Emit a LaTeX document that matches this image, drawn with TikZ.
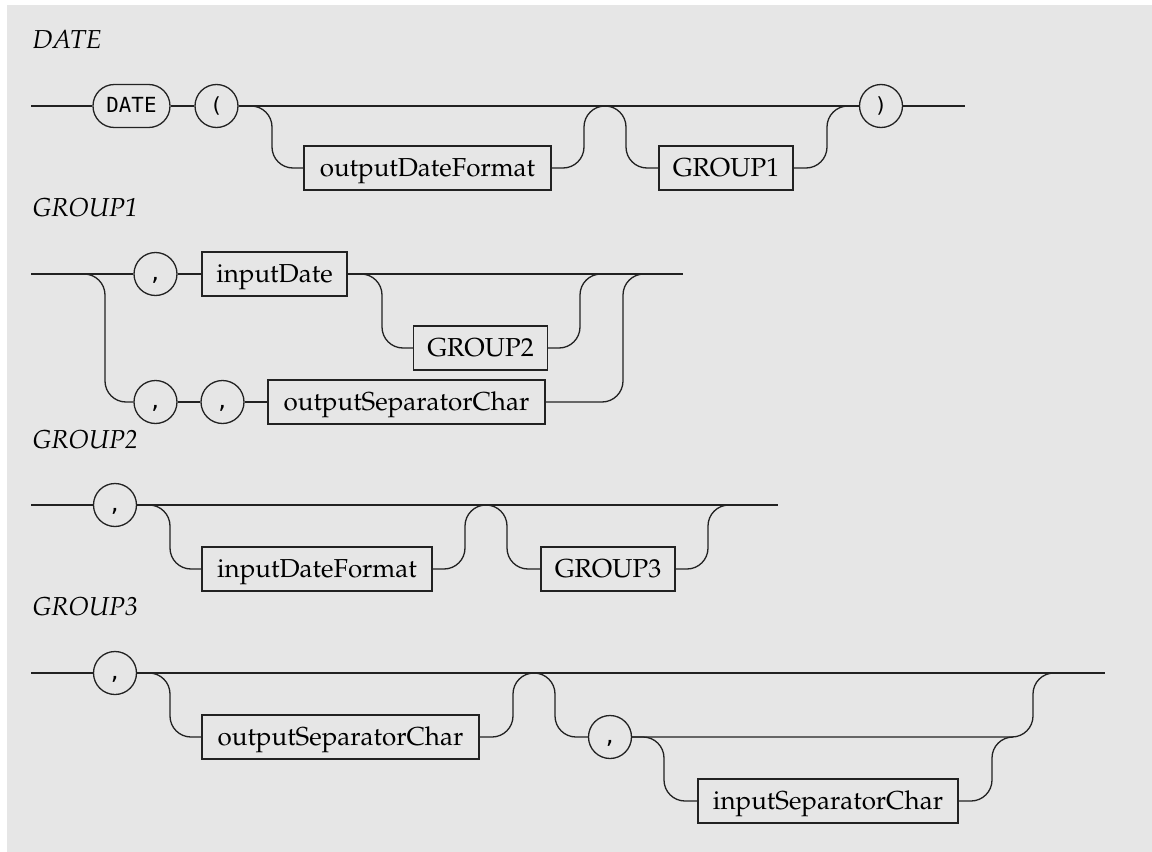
\documentclass[tikz,border=0pt]{standalone}
\usepackage{fontspec}
\usepackage[T1]{fontenc}
\usepackage{mathpazo}
\newfontfamily\railmono{DejaVu Sans Mono}
\definecolor{bg}{HTML}{E6E6E6}
\definecolor{ink}{HTML}{222222}
\def\pxu{0.385pt}
\begin{document}
\begin{tikzpicture}[x=0.385pt,y=-0.385pt,
  rail/.style={draw=ink,line width=0.5pt},
  rc/.style={rail,rounded corners=8.085pt},
  ntbox/.style={rectangle,draw=ink,line width=0.5pt,inner sep=0pt,
    minimum height=44*\pxu,text height=6.9pt,text depth=0pt,
    font=\fontsize{10}{12}\selectfont},
  tmcirc/.style={circle,draw=ink,line width=0.5pt,inner sep=0pt,
    minimum size=43*\pxu,font=\railmono\fontsize{8}{10}\selectfont},
  tmround/.style={rectangle,draw=ink,line width=0.5pt,inner sep=0pt,
    rounded corners=8.2pt,minimum width=77*\pxu,minimum height=43*\pxu,
    font=\railmono\fontsize{8}{10}\selectfont},
  ttl/.style={anchor=base west,inner sep=0pt,font=\itshape\fontsize{10}{12}\selectfont}]
\useasboundingbox (0,0) rectangle (1152,852);
\fill[white] (0,0) rectangle (1152,852);
\fill[bg] (7,5) rectangle (1152,852);

% ---------------- DATE ----------------
\node[ttl] (t1) at (32,49) {DATE};
\coordinate (s1) at (31,106);
\coordinate (e1) at (965,106);
\node[tmround] (dateT) at (131.5,106) {DATE\vphantom{(}};
\node[tmcirc] (lp) at (216.5,106) {(};
\node[ntbox,minimum width=247*\pxu] (odf) at (427.5,168) {outputDateFormat};
\node[ntbox,minimum width=134*\pxu] (g1) at (726,168) {GROUP1};
\node[tmcirc] (rp) at (881,106) {)};
\coordinate (a1) at (272,168);
\coordinate (b1) at (584,106);
\coordinate (m1) at (605,106);
\coordinate (c1) at (626,168);
\coordinate (d1) at (827,106);
\coordinate (f1) at (848,106);
\draw[rail] (s1) -- (dateT.west);
\draw[rail] (dateT.east) -- (lp.west);
\draw[rail] (lp.east) -- (rp.west);
\draw[rail] (rp.east) -- (e1);
\draw[rc] (lp.east) -| (a1) -- (odf.west);
\draw[rc] (odf.east) -| (b1) -- (m1);
\draw[rc] (m1) -| (c1) -- (g1.west);
\draw[rc] (g1.east) -| (d1) -- (f1);

% ---------------- GROUP1 ----------------
\node[ttl] (t2) at (32,216) {GROUP1};
\coordinate (s2) at (31,274);
\coordinate (e2) at (683,274);
\node[tmcirc] (cA) at (155.5,274) {,\vphantom{(}};
\node[ntbox,minimum width=145*\pxu] (id) at (274.5,274) {inputDate};
\node[ntbox,minimum width=134*\pxu] (g2) at (480.5,348) {GROUP2};
\node[tmcirc] (cB) at (155.5,402) {,\vphantom{(}};
\node[tmcirc] (cC) at (222.5,402) {,\vphantom{(}};
\node[ntbox,minimum width=277*\pxu] (osc2) at (406.5,402) {outputSeparatorChar};
\coordinate (j2) at (84,274);
\coordinate (a2) at (105,402);
\coordinate (b2) at (382,348);
\coordinate (c2) at (580,274);
\coordinate (d2) at (601,274);
\coordinate (f2) at (623,274);
\coordinate (h2) at (644,274);
\draw[rail] (s2) -- (cA.west);
\draw[rail] (cA.east) -- (id.west);
\draw[rail] (id.east) -- (e2);
\draw[rc] (id.east) -| (b2) -- (g2.west);
\draw[rc] (g2.east) -| (c2) -- (d2);
\draw[rc] (j2) -| (a2) -- (cB.west);
\draw[rail] (cB.east) -- (cC.west);
\draw[rail] (cC.east) -- (osc2.west);
\draw[rc] (osc2.east) -| (f2) -- (h2);

% ---------------- GROUP2 ----------------
\node[ttl] (t3) at (32,448) {GROUP2};
\coordinate (s3) at (31,505);
\coordinate (e3) at (778,505);
\node[tmcirc] (cD) at (115,505) {,\vphantom{(}};
\node[ntbox,minimum width=230*\pxu] (idf) at (317,569) {inputDateFormat};
\node[ntbox,minimum width=134*\pxu] (g3) at (608,569) {GROUP3};
\coordinate (a3) at (170,569);
\coordinate (b3) at (465,505);
\coordinate (m3) at (486,505);
\coordinate (c3) at (507,569);
\coordinate (d3) at (708,505);
\coordinate (f3) at (729,505);
\draw[rail] (s3) -- (cD.west);
\draw[rail] (cD.east) -- (e3);
\draw[rc] (cD.east) -| (a3) -- (idf.west);
\draw[rc] (idf.east) -| (b3) -- (m3);
\draw[rc] (m3) -| (c3) -- (g3.west);
\draw[rc] (g3.east) -| (d3) -- (f3);

% ---------------- GROUP3 ----------------
\node[ttl] (t4) at (32,615) {GROUP3};
\coordinate (s4) at (31,673);
\coordinate (e4) at (1105,673);
\node[tmcirc] (cE) at (115,673) {,\vphantom{(}};
\node[ntbox,minimum width=277*\pxu] (osc4) at (340.5,737) {outputSeparatorChar};
\node[tmcirc] (cF) at (610,737) {,\vphantom{(}};
\node[ntbox,minimum width=260*\pxu] (isc) at (828,801) {inputSeparatorChar};
\coordinate (a4) at (170,737);
\coordinate (b4) at (513,673);
\coordinate (m4) at (534,673);
\coordinate (c4) at (555,737);
\coordinate (d4) at (1033,673);
\coordinate (f4) at (1054,673);
\coordinate (g4) at (664,801);
\coordinate (h4) at (992,737);
\coordinate (k4) at (1013,737);
\draw[rail] (s4) -- (cE.west);
\draw[rail] (cE.east) -- (e4);
\draw[rc] (cE.east) -| (a4) -- (osc4.west);
\draw[rc] (osc4.east) -| (b4) -- (m4);
\draw[rc] (m4) -| (c4) -- (cF.west);
\draw[rc] (cF.east) -| (d4) -- (f4);
\draw[rc] (cF.east) -| (g4) -- (isc.west);
\draw[rc] (isc.east) -| (h4) -- (k4);
\end{tikzpicture}
\end{document}
